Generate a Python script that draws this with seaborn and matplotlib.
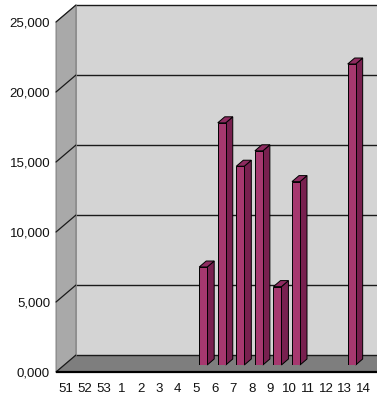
import matplotlib
matplotlib.use("Agg")
import matplotlib.pyplot as plt
import matplotlib.transforms as mtransforms
from matplotlib.patches import Polygon
import seaborn as sns
import pandas as pd

# ---- data ----
weeks = ["51", "52", "53", "1", "2", "3", "4", "5", "6", "7", "8", "9", "10", "11", "12", "13", "14"]
values = [0, 0, 0, 0, 0, 0, 0, 7000, 17300, 14200, 15300, 5600, 13100, 0, 0, 21500, 0]
y_ticks = [0, 5000, 10000, 15000, 20000, 25000]
y_tick_labels = ["0,000", "5,000", "10,000", "15,000", "20,000", "25,000"]

# ---- style ----
sns.set_style("white")
plt.rcParams["font.family"] = ["Liberation Sans", "DejaVu Sans"]

FRONT = "#a6386f"
SIDE = "#78204f"
TOP = "#8e2b60"
BACK_WALL = "#d4d4d4"
LEFT_WALL = "#a9a9a9"
FLOOR = "#7e7e7e"

W, H, DPI = 377, 400, 100
fig = plt.figure(figsize=(W / DPI, H / DPI), dpi=DPI)
fig.patch.set_facecolor("white")

px_per_cat = 18.56
px_per_unit = 14 / 1000.0
left_px, bottom_px = 64, 35
ax = fig.add_axes([left_px / W, bottom_px / H, len(weeks) * px_per_cat / W, 25000 * px_per_unit / H])
ax.set_facecolor("none")

df = pd.DataFrame({"week": weeks, "value": values})
sns.barplot(data=df, x="week", y="value", order=weeks, color=FRONT, width=0.43,
            edgecolor="black", linewidth=0.7, saturation=1, ax=ax, zorder=5)
ax.set_xlim(-0.5, len(weeks) - 0.5)
ax.set_ylim(0, 25000)

# depth offsets (in data units)
def dxp(px):
    return px / px_per_cat

def dyp(px):
    return px / px_per_unit

back_dx, back_dy = dxp(12), dyp(10)
front_dx, front_dy = dxp(-8), dyp(-7)
bar_dx, bar_dy = dxp(7), dyp(6)

x0 = -0.5
x_far = len(weeks) + 2
ymax = y_ticks[-1]

# back wall
ax.add_patch(Polygon([(x0 + back_dx, back_dy), (x_far, back_dy), (x_far, ymax + back_dy),
                      (x0 + back_dx, ymax + back_dy)], closed=True, facecolor=BACK_WALL,
                     edgecolor="none", zorder=0, clip_on=False))
# left wall
ax.add_patch(Polygon([(x0 + front_dx, front_dy), (x0 + back_dx, back_dy),
                      (x0 + back_dx, ymax + back_dy), (x0 + front_dx, ymax + front_dy)], closed=True,
                     facecolor=LEFT_WALL, edgecolor="#6e6e6e", linewidth=0.6, zorder=1, clip_on=False))
# floor
ax.add_patch(Polygon([(x0 + front_dx, front_dy), (x_far, front_dy), (x_far, back_dy),
                      (x0 + back_dx, back_dy)], closed=True, facecolor=FLOOR,
                     edgecolor="none", zorder=1, clip_on=False))
# front edge of floor
ax.plot([x0 + front_dx, x_far], [front_dy, front_dy], color="black", linewidth=1.6,
        zorder=2, clip_on=False, solid_capstyle="butt")
# gridlines on back wall and left wall
for v in y_ticks:
    ax.plot([x0 + back_dx, x_far], [v + back_dy, v + back_dy], color="#1a1a1a", linewidth=1.0,
            zorder=1.5, clip_on=False)
    ax.plot([x0 + front_dx, x0 + back_dx], [v + front_dy, v + back_dy], color="#1a1a1a",
            linewidth=0.9, zorder=1.5, clip_on=False)
# back-wall left edge
ax.plot([x0 + back_dx, x0 + back_dx], [back_dy, ymax + back_dy], color="#8a8a8a", linewidth=0.6,
        zorder=1.6, clip_on=False)

# 3D faces of bars derived from the drawn bar patches
for p in list(ax.patches):
    if not hasattr(p, "get_height") or p.get_zorder() != 5:
        continue
    h = p.get_height()
    if h <= 0:
        continue
    bx0 = p.get_x()
    bx1 = bx0 + p.get_width()
    ax.add_patch(Polygon([(bx1, 0), (bx1 + bar_dx, bar_dy), (bx1 + bar_dx, h + bar_dy), (bx1, h)],
                         closed=True, facecolor=SIDE, edgecolor="black", linewidth=0.7, zorder=4,
                         clip_on=False))
    ax.add_patch(Polygon([(bx0, h), (bx1, h), (bx1 + bar_dx, h + bar_dy), (bx0 + bar_dx, h + bar_dy)],
                         closed=True, facecolor=TOP, edgecolor="black", linewidth=0.7, zorder=4,
                         clip_on=False))

# ticks and labels
ax.set_yticks(y_ticks)
ax.set_yticklabels(y_tick_labels)
ax.set_xticks(range(len(weeks)))
ax.set_xticklabels(weeks)
ax.set_xlabel("")
ax.set_ylabel("")
ax.tick_params(axis="y", length=0, pad=10, labelsize=9.5, labelcolor="#111111")
ax.tick_params(axis="x", length=0, pad=13, labelsize=9.5, labelcolor="#111111")
for lab in ax.get_yticklabels():
    lab.set_transform(lab.get_transform() + mtransforms.ScaledTranslation(0, -7 / DPI, fig.dpi_scale_trans))
for lab in ax.get_xticklabels():
    lab.set_transform(lab.get_transform() + mtransforms.ScaledTranslation(-7 / DPI, 0, fig.dpi_scale_trans))
for s in ax.spines.values():
    s.set_visible(False)

fig.savefig("out.png", dpi=DPI, facecolor="white")
